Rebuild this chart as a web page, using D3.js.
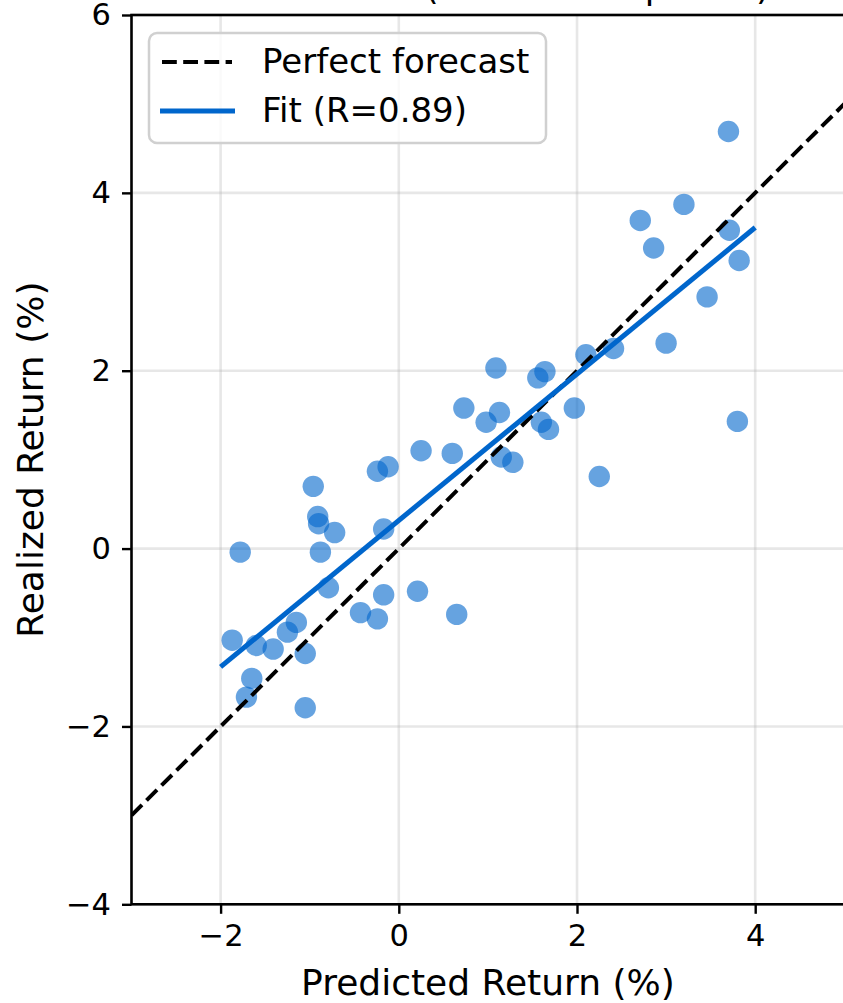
<!DOCTYPE html>
<html>
<head>
<meta charset="utf-8">
<script src="https://cdn.jsdelivr.net/npm/d3@7"></script>
<style>
  body { margin: 0; background: #fff; }
  svg { display: block; font-family: "DejaVu Sans", sans-serif; }
</style>
</head>
<body>
<svg></svg>
<script>
// data
var predicted = [0.25, 0.60, -0.24, -0.12, -0.96, -0.91, -0.90, -0.72, -0.17, -1.78,
  -0.88, -0.79, -0.17, 0.21, -0.43, -0.24, 0.65, -1.87, -1.60, -1.41,
  -1.25, -1.15, -1.05, -1.65, -1.71, -1.05, 1.09, 1.56, 1.64, 2.10,
  2.41, 0.73, 1.13, 0.98, 1.97, 1.60, 1.68, 1.15, 1.28, 2.25,
  3.70, 2.71, 3.20, 2.86, 3.71, 3.82, 3.46, 3.00, 3.80]
var realized = [1.10, 1.07, 0.87, 0.92, 0.70, 0.36, 0.28, 0.18, 0.22, -0.04,
  -0.04, -0.44, -0.52, -0.48, -0.72, -0.79, -0.74, -1.03, -1.09, -1.13,
  -0.94, -0.83, -1.18, -1.46, -1.67, -1.79, 2.03, 1.92, 1.99, 2.18,
  2.25, 1.58, 1.53, 1.42, 1.58, 1.42, 1.34, 1.03, 0.97, 0.81,
  4.69, 3.69, 3.87, 3.38, 3.58, 3.24, 2.83, 2.31, 1.43]
var fitX = [-2, 4]
var fitY = [-1.33, 3.61]
var perfectX = [-3, 5]
var xTicks = [-2, 0, 2, 4]
var yTicks = [-4, -2, 0, 2, 4, 6]
var legendLabels = ["Perfect forecast", "Fit (R=0.89)"]

var width = 843, height = 1003
var plotLeft = 131.5, plotRight = 844.3, plotTop = 15, plotBottom = 904.3
var blue = "#0066cc"

var svg = d3.select("svg")
  .attr("width", width)
  .attr("height", height)

var x = d3.scaleLinear().domain([-3, 5]).range([plotLeft, plotRight])
var y = d3.scaleLinear().domain([-4, 6]).range([plotBottom, plotTop])

svg.append("defs").append("clipPath").attr("id", "plot")
  .append("rect")
  .attr("x", plotLeft).attr("y", plotTop)
  .attr("width", plotRight - plotLeft).attr("height", plotBottom - plotTop)

// title, mostly above the top edge (only descenders show)
svg.append("text")
  .attr("x", 769.5)
  .attr("y", -1)
  .attr("text-anchor", "end")
  .style("font-size", "34.9px")
  .text("Forecast Skill (2019\u20132023 period)")

// grid
var grid = svg.append("g")
grid.selectAll(".gx").data(xTicks).enter().append("line")
  .attr("x1", d => x(d)).attr("x2", d => x(d))
  .attr("y1", plotTop).attr("y2", plotBottom)
  .attr("stroke", "#b0b0b0").attr("stroke-opacity", 0.3).attr("stroke-width", 2.6)
grid.selectAll(".gy").data(yTicks).enter().append("line")
  .attr("x1", plotLeft).attr("x2", plotRight)
  .attr("y1", d => y(d)).attr("y2", d => y(d))
  .attr("stroke", "#b0b0b0").attr("stroke-opacity", 0.3).attr("stroke-width", 2.6)

var plot = svg.append("g").attr("clip-path", "url(#plot)")

// points
plot.selectAll("circle").data(predicted).enter().append("circle")
  .attr("cx", d => x(d))
  .attr("cy", (d, i) => y(realized[i]))
  .attr("r", 10.7)
  .attr("fill", blue)
  .attr("fill-opacity", 0.6)

// perfect forecast y = x
var line = d3.line().x(d => x(d[0])).y(d => y(d[1]))
plot.append("path")
  .attr("d", line(perfectX.map(v => [v, v])))
  .attr("fill", "none")
  .attr("stroke", "#000")
  .attr("stroke-width", 4)
  .attr("stroke-dasharray", "14.8,6.4")

// fit line
plot.append("path")
  .attr("d", line(fitX.map((v, i) => [v, fitY[i]])))
  .attr("fill", "none")
  .attr("stroke", blue)
  .attr("stroke-width", 5)

// axes
var fmt = d => d < 0 ? "\u2212" + Math.abs(d) : d
svg.append("g")
  .attr("transform", "translate(0," + plotBottom + ")")
  .call(d3.axisBottom(x).tickValues(xTicks).tickSize(9.5).tickPadding(11).tickFormat(fmt))
svg.append("g")
  .attr("transform", "translate(" + plotLeft + ",0)")
  .call(d3.axisLeft(y).tickValues(yTicks).tickSize(9.5).tickPadding(11).tickFormat(fmt))

svg.selectAll(".domain").remove()
svg.selectAll(".tick line").attr("stroke", "#000").attr("stroke-width", 2.4)
svg.selectAll(".tick text")
  .attr("fill", "#000")
  .style("font-size", "30.5px")
  .style("font-family", "DejaVu Sans, sans-serif")

// frame
svg.append("rect")
  .attr("x", plotLeft).attr("y", plotTop)
  .attr("width", plotRight - plotLeft).attr("height", plotBottom - plotTop)
  .attr("fill", "none")
  .attr("stroke", "#000")
  .attr("stroke-width", 2.6)

// axis labels
svg.append("text")
  .attr("x", (plotLeft + plotRight) / 2)
  .attr("y", 995)
  .attr("text-anchor", "middle")
  .style("font-size", "36px")
  .text("Predicted Return (%)")
svg.append("text")
  .attr("transform", "translate(43," + (plotTop + plotBottom) / 2 + ") rotate(-90)")
  .attr("text-anchor", "middle")
  .style("font-size", "36px")
  .text("Realized Return (%)")

// legend
var legend = svg.append("g")
legend.append("rect")
  .attr("x", 149).attr("y", 33)
  .attr("width", 397).attr("height", 110)
  .attr("rx", 8)
  .attr("fill", "#fff").attr("fill-opacity", 0.8)
  .attr("stroke", "#d0d0d0").attr("stroke-width", 2.5)
legend.append("line")
  .attr("x1", 162).attr("x2", 232).attr("y1", 62).attr("y2", 62)
  .attr("stroke", "#000").attr("stroke-width", 4)
  .attr("stroke-dasharray", "14.8,6.4")
legend.append("line")
  .attr("x1", 160).attr("x2", 235).attr("y1", 111).attr("y2", 111)
  .attr("stroke", blue).attr("stroke-width", 5)
legend.selectAll("text").data(legendLabels).enter().append("text")
  .attr("x", 262)
  .attr("y", (d, i) => 73 + i * 49)
  .style("font-size", "34px")
  .text(d => d)
</script>
</body>
</html>
